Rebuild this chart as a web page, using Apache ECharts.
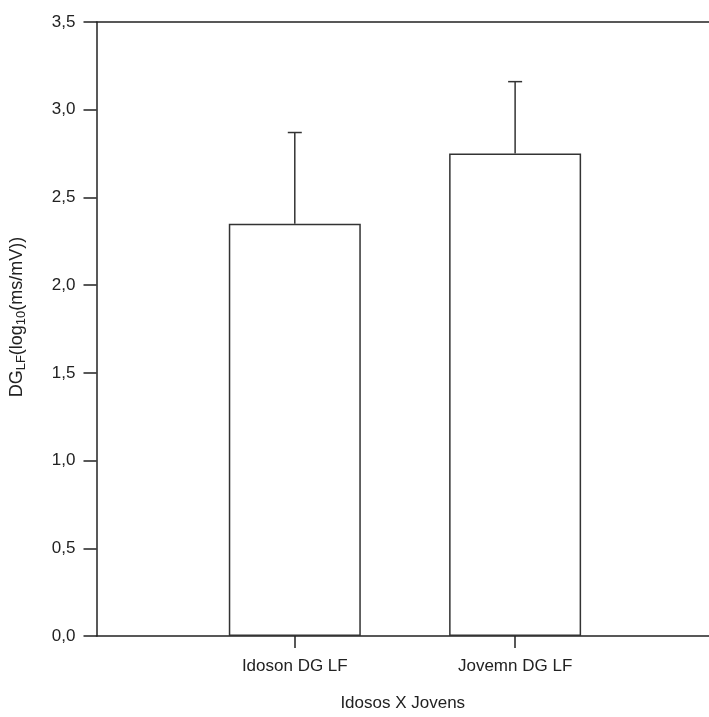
<!DOCTYPE html>
<html>
<head>
<meta charset="utf-8">
<script src="https://cdn.jsdelivr.net/npm/echarts@6/dist/echarts.min.js"></script>
<style>
  html, body { margin: 0; padding: 0; background: #fff; }
  #chart { width: 709px; height: 717px; }
</style>
</head>
<body>
<div id="chart"></div>
<script>
// Group names, positioned at 1 and 2 on the horizontal value axis
const categories = ['Idoson DG LF', 'Jovemn DG LF'];
const positions = [1, 2];
// Mean DG_LF per group, log10(ms/mV)
const means = [2.35, 2.75];
// Upper end of each error bar
const upper = [2.87, 3.16];
// Y tick values
const yTicks = [0, 0.5, 1.0, 1.5, 2.0, 2.5, 3.0, 3.5];

const FONT = 'Liberation Sans, Arial, sans-serif';
const INK = '#222';

const chart = echarts.init(document.getElementById('chart'), null, { renderer: 'canvas' });

const barData = positions.map((p, i) => [p, means[i]]);
const errData = positions.map((p, i) => [p, means[i], upper[i]]);

chart.setOption({
  animation: false,
  backgroundColor: '#fff',
  grid: { left: 96, right: -4, top: 22, bottom: 73, containLabel: false },
  xAxis: [
    {
      type: 'value',
      min: 0.1,
      max: 2.88,
      position: 'bottom',
      splitLine: { show: false },
      axisLine: { show: true, onZero: false, lineStyle: { color: INK, width: 1.5 } },
      axisTick: { show: true, customValues: positions, length: 12, lineStyle: { color: INK, width: 1.5 } },
      axisLabel: {
        show: true,
        customValues: positions,
        formatter: v => categories[positions.indexOf(v)] || '',
        color: '#222', fontFamily: FONT, fontSize: 17, margin: 22
      },
      name: 'Idosos X Jovens',
      nameLocation: 'middle',
      nameGap: 59,
      nameTextStyle: { color: '#222', fontFamily: FONT, fontSize: 17 }
    },
    {
      type: 'value',
      min: 0.1,
      max: 2.88,
      position: 'top',
      splitLine: { show: false },
      axisLine: { show: true, onZero: false, lineStyle: { color: INK, width: 1.5 } },
      axisTick: { show: false },
      axisLabel: { show: false }
    }
  ],
  yAxis: {
    type: 'value',
    min: 0,
    max: 3.5,
    interval: 0.5,
    splitLine: { show: false },
    axisLine: { show: true, lineStyle: { color: INK, width: 1.5 } },
    axisTick: { show: true, length: 13, lineStyle: { color: INK, width: 1.5 } },
    axisLabel: {
      color: '#222', fontFamily: FONT, fontSize: 17, margin: 21,
      customValues: yTicks,
      formatter: v => v.toFixed(1).replace('.', ',')
    },
    name: '{m|DG}{s|LF}{m|(log}{s|10}{m|(ms/mV))}',
    nameLocation: 'middle',
    nameGap: 69,
    nameRotate: 90,
    nameTextStyle: {
      padding: [0, 0, 0, 24],
      rich: {
        m: { fontFamily: FONT, fontSize: 18, color: '#222' },
        s: { fontFamily: FONT, fontSize: 13, color: '#222', verticalAlign: 'bottom', padding: [8, 0, 0, 0] }
      }
    }
  },
  series: [
    {
      type: 'bar',
      xAxisIndex: 0,
      data: barData,
      barWidth: 132,
      itemStyle: { color: '#fff', borderColor: '#333', borderWidth: 1.5 },
      z: 2
    },
    {
      type: 'custom',
      xAxisIndex: 0,
      data: errData,
      z: 3,
      renderItem: function (params, api) {
        const x = api.value(0);
        const top = api.coord([x, api.value(1)]);
        const hi = api.coord([x, api.value(2)]);
        const half = 7;
        return {
          type: 'group',
          children: [
            { type: 'line', shape: { x1: top[0], y1: top[1], x2: hi[0], y2: hi[1] },
              style: { stroke: '#333', lineWidth: 1.5 } },
            { type: 'line', shape: { x1: hi[0] - half, y1: hi[1], x2: hi[0] + half, y2: hi[1] },
              style: { stroke: '#333', lineWidth: 1.5 } }
          ]
        };
      }
    }
  ]
});
</script>
</body>
</html>
